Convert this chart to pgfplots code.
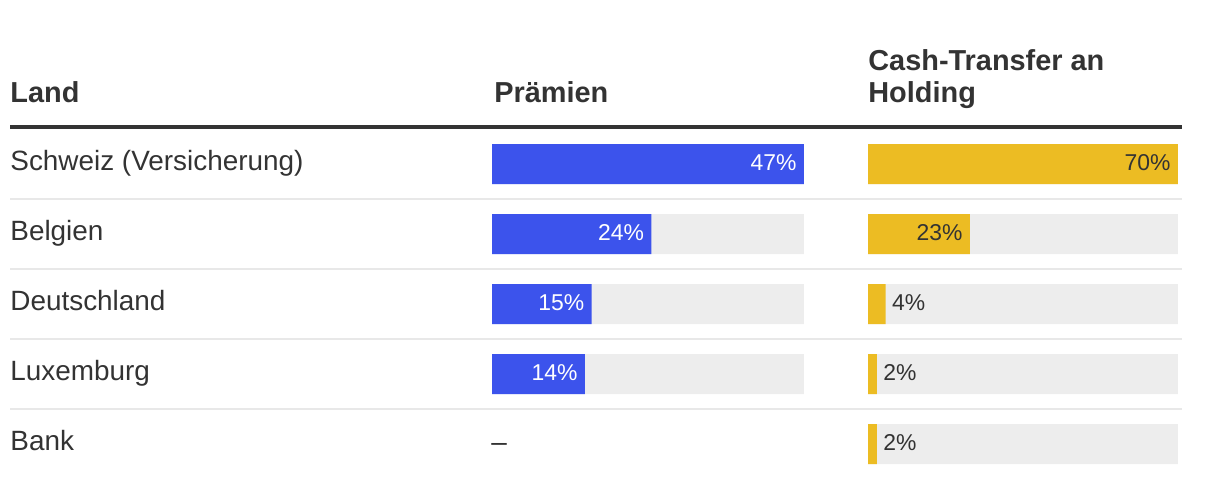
\documentclass[border=0pt]{standalone}
\usepackage{pgfplots}
\pgfplotsset{compat=1.18}
\usepackage{pgfplotstable}
\usepackage{fontspec}
\setmainfont{Liberation Sans}
\definecolor{barblue}{HTML}{3C53EC}
\definecolor{baryellow}{HTML}{ECBC23}
\definecolor{bargray}{HTML}{EDEDED}
\definecolor{rulegray}{HTML}{E8E8E8}
\definecolor{txt}{HTML}{333333}
% Prämien (Bank: keine Angabe)
\pgfplotstableread{
row val
0 47
1 24
2 15
3 14
}\praemien
% Cash-Transfer an Holding: Werte mit Beschriftung im Balken
\pgfplotstableread{
row val
0 70
1 23
}\cashin
% Cash-Transfer an Holding: Werte mit Beschriftung neben dem Balken
\pgfplotstableread{
row val
2 4
3 2
4 2
}\cashout
\begin{document}
\begin{tikzpicture}
\path[use as bounding box] (0,0) rectangle (610bp,-244bp);
\begin{scope}[x=0.5bp,y=-0.5bp]
  \fill[txt] (10,125.5) rectangle (1182,129.5);
  \foreach \yy in {199,269,339,409} \fill[rulegray] (10,\yy-1) rectangle (1182,\yy+1);
  \tikzset{hd/.style={anchor=base west, inner sep=0pt, text=txt, font=\fontsize{14.5}{16.5}\selectfont\bfseries},
           rl/.style={anchor=base west, inner sep=0pt, text=txt, font=\fontsize{14}{16}\selectfont}}
  \node[hd] at (10,103) {Land};
  \node[hd] at (494,103) {Prämien};
  \node[hd] at (868,70) {Cash-Transfer an};
  \node[hd] at (868,103) {Holding};
  \node[rl] at (10,171) {Schweiz (Versicherung)};
  \node[rl] at (10,241) {Belgien};
  \node[rl] at (10,311) {Deutschland};
  \node[rl] at (10,381) {Luxemburg};
  \node[rl] at (10,451) {Bank};
  \node[rl] at (491,452) {–};
\end{scope}
\pgfplotsset{rowaxis/.style={scale only axis, hide axis, clip=false, enlargelimits=false,
    ymin=-0.5, ymax=4.5, y dir=reverse, height=175bp, anchor=north west,
    /pgf/number format/assume math mode=true},
  bgbar/.style={xbar, bar shift=0pt, bar width=20bp, fill=bargray, draw=none},
  valbar/.style={xbar, bar shift=0pt, bar width=20bp, draw=none,
    nodes near coords={\pgfmathprintnumber{\pgfplotspointmeta}\%}},
  lblin/.style={nodes near coords style={anchor=base east, inner sep=0pt, xshift=-3.5bp, yshift=-3bp,
    font=\fontsize{11.5}{13}\selectfont, text=#1}},
  lblout/.style={nodes near coords style={anchor=base west, inner sep=0pt, xshift=3bp, yshift=-3bp,
    font=\fontsize{11.5}{13}\selectfont, text=txt}}}
\begin{axis}[rowaxis, at={(246bp,-64.5bp)}, width=156bp, xmin=0, xmax=47]
  \addplot[bgbar] coordinates {(47,0) (47,1) (47,2) (47,3)};
  \addplot[valbar, fill=barblue, lblin=white] table[x=val, y=row] {\praemien};
\end{axis}
\begin{axis}[rowaxis, at={(434bp,-64.5bp)}, width=155bp, xmin=0, xmax=70]
  \addplot[bgbar] coordinates {(70,0) (70,1) (70,2) (70,3) (70,4)};
  \addplot[valbar, fill=baryellow, lblin=txt] table[x=val, y=row] {\cashin};
  \addplot[valbar, fill=baryellow, lblout] table[x=val, y=row] {\cashout};
\end{axis}
\end{tikzpicture}
\end{document}
